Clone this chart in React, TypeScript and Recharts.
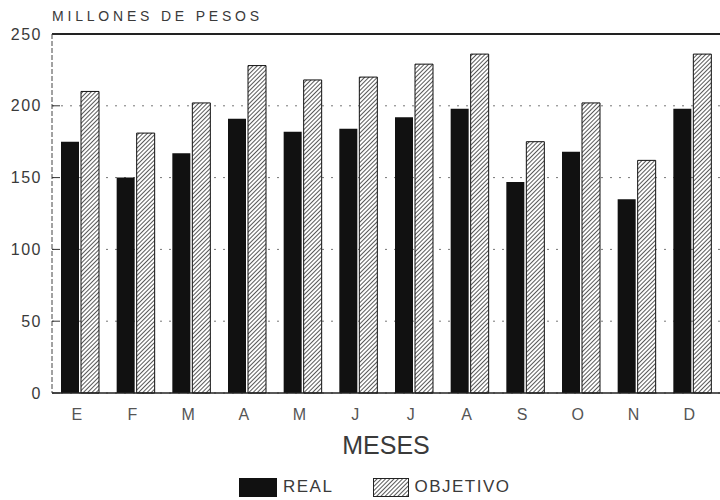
import React from "react";
import {
  BarChart,
  Bar,
  XAxis,
  YAxis,
  CartesianGrid,
  ReferenceLine,
  Legend,
} from "recharts";

const meses = ["E", "F", "M", "A", "M", "J", "J", "A", "S", "O", "N", "D"];
const real = [175, 150, 167, 191, 182, 184, 192, 198, 147, 168, 135, 198];
const objetivo = [210, 181, 202, 228, 218, 220, 229, 236, 175, 202, 162, 236];
const yTicks = [0, 50, 100, 150, 200, 250];

const data = meses.map((mes, i) => ({
  mes,
  real: real[i],
  objetivo: objetivo[i],
}));

const FONT = "'Liberation Sans', Arial, sans-serif";
const INK = "#3a3a3a";

const LegendContent = () => (
  <div
    style={{
      display: "flex",
      alignItems: "center",
      height: 26,
      paddingLeft: 239,
      fontFamily: FONT,
      fontSize: 17,
      letterSpacing: 1.5,
      color: INK,
    }}
  >
    <div style={{ width: 38, height: 19, background: "#111", marginRight: 6 }} />
    <span style={{ marginRight: 40 }}>REAL</span>
    <svg width={36} height={19} style={{ marginRight: 5 }}>
      <defs>
        <pattern
          id="hatchLegend"
          width={3}
          height={3}
          patternUnits="userSpaceOnUse"
          patternTransform="rotate(45)"
        >
          <rect width={3} height={3} fill="#fff" />
          <line x1={0} y1={0} x2={0} y2={3} stroke="#111" strokeWidth={1.4} />
        </pattern>
      </defs>
      <rect x={0.5} y={0.5} width={35} height={18} fill="url(#hatchLegend)" stroke="#222" />
    </svg>
    <span>OBJETIVO</span>
  </div>
);

export default function App() {
  return (
    <div style={{ position: "absolute", left: 0, top: 0, background: "#fff" }}>
      <div
        style={{
          position: "absolute",
          left: 52,
          top: 8,
          fontFamily: FONT,
          fontSize: 14,
          letterSpacing: 3.8,
          color: INK,
        }}
      >
        MILLONES DE PESOS
      </div>
      <BarChart
        width={720}
        height={500}
        data={data}
        margin={{ top: 34, right: 0, left: 0, bottom: 0 }}
        barSize={18}
        barGap={2}
      >
        <defs>
          <pattern
            id="hatch"
            width={3}
            height={3}
            patternUnits="userSpaceOnUse"
            patternTransform="rotate(45)"
          >
            <rect width={3} height={3} fill="#fff" />
            <line x1={0} y1={0} x2={0} y2={3} stroke="#111" strokeWidth={1.4} />
          </pattern>
        </defs>
        <CartesianGrid vertical={false} stroke="#777" strokeDasharray="2 7" />
        <XAxis
          dataKey="mes"
          height={81}
          tickLine={false}
          axisLine={{ stroke: "#222", strokeWidth: 1.5 }}
          tick={{ fontSize: 16, fill: "#555", fontFamily: FONT, dx: -3 }}
          tickMargin={10}
          interval={0}
          label={{
            value: "MESES",
            position: "insideBottom",
            offset: 20,
            fontSize: 25,
            fill: INK,
            fontFamily: FONT,
          }}
        />
        <YAxis
          width={52}
          domain={[0, 250]}
          ticks={yTicks}
          interval={0}
          tickSize={-8}
          tickMargin={18}
          axisLine={{ stroke: "#444", strokeDasharray: "5 2" }}
          tickLine={{ stroke: "#333" }}
          tick={{ fontSize: 16, fill: INK, fontFamily: FONT, letterSpacing: 1.5 }}
        />
        <ReferenceLine y={250} stroke="#222" strokeWidth={2} />
        <Legend verticalAlign="bottom" content={<LegendContent />} />
        <Bar dataKey="real" name="REAL" fill="#111" isAnimationActive={false} />
        <Bar
          dataKey="objetivo"
          name="OBJETIVO"
          fill="url(#hatch)"
          stroke="#111"
          strokeWidth={1}
          isAnimationActive={false}
        />
      </BarChart>
    </div>
  );
}
